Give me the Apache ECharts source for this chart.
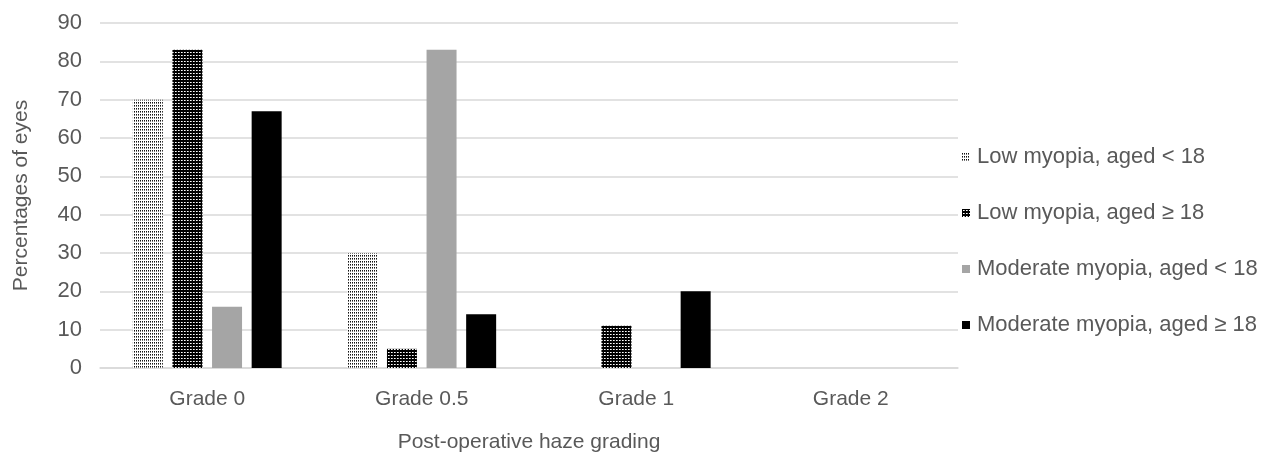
<!DOCTYPE html>
<html><head><meta charset="utf-8">
<script src="https://cdn.jsdelivr.net/npm/echarts@6/dist/echarts.min.js"></script>
<style>html,body{margin:0;padding:0;background:#fff}#c{width:1277px;height:456px}</style>
</head><body><div id="c"></div>
<script>
const categories = ['Grade 0', 'Grade 0.5', 'Grade 1', 'Grade 2'];
const seriesNames = ['Low myopia, aged < 18', 'Low myopia, aged \u2265 18', 'Moderate myopia, aged < 18', 'Moderate myopia, aged \u2265 18'];
const lowUnder18 = [70, 30, 0, 0];
const lowOver18 = [83, 5, 11, 0];
const modUnder18 = [16, 83, 0, 0];
const modOver18 = [67, 14, 20, 0];
const yTicks = [0, 10, 20, 30, 40, 50, 60, 70, 80, 90];

function makePattern(bg, w, h, rects) {
  const c = document.createElement('canvas');
  c.width = w; c.height = h;
  const ctx = c.getContext('2d');
  ctx.fillStyle = bg; ctx.fillRect(0, 0, w, h);
  rects.forEach(r => { ctx.fillStyle = r[4]; ctx.fillRect(r[0], r[1], r[2], r[3]); });
  return { image: c, repeat: 'repeat' };
}
const pat1 = makePattern('#ffffff', 2, 3, [[0, 0, 1, 1, '#111111'], [0, 1, 1, 1, '#777777']]);
const pat2 = makePattern('#000000', 3, 3, [[1, 1, 1, 1, '#ffffff'], [2, 1, 1, 1, '#aaaaaa']]);

const dataSets = [lowUnder18, lowOver18, modUnder18, modOver18];
const colors = [pat1, pat2, '#a5a5a5', '#000000'];

const chart = echarts.init(document.getElementById('c'));
const font = 'Liberation Sans, Arial, sans-serif';
chart.setOption({
  animation: false,
  textStyle: { fontFamily: font },
  grid: { left: 100, right: 319, top: 23, bottom: 88, containLabel: false, outerBoundsMode: 'none' },
  legend: {
    orient: 'vertical', left: 957, top: 141,
    itemWidth: 8, itemHeight: 8, itemGap: 34, icon: 'rect',
    textStyle: { fontSize: 22, color: '#595959', fontFamily: font, padding: [0, 0, 0, 2] },
    data: seriesNames
  },
  xAxis: {
    type: 'category', data: categories,
    axisLine: { lineStyle: { color: '#d9d9d9', width: 1.5 } },
    axisTick: { show: false },
    axisLabel: { fontSize: 21, color: '#595959', margin: 21 },
    name: 'Post-operative haze grading', nameLocation: 'middle', nameGap: 64,
    nameTextStyle: { fontSize: 21, color: '#595959' }
  },
  yAxis: {
    type: 'value', min: yTicks[0], max: yTicks[yTicks.length - 1], interval: 10,
    axisLine: { show: false }, axisTick: { show: false },
    splitLine: { lineStyle: { color: '#d9d9d9', width: 1.5 } },
    axisLabel: { fontSize: 22, color: '#595959', margin: 18 },
    name: 'Percentages of eyes', nameLocation: 'middle', nameGap: 68,
    nameTextStyle: { fontSize: 21, color: '#595959' }
  },
  series: dataSets.map((d, i) => ({
    name: seriesNames[i], type: 'bar', data: d,
    barWidth: 30, barGap: '32%',
    itemStyle: { color: colors[i] }
  }))
});
</script></body></html>
